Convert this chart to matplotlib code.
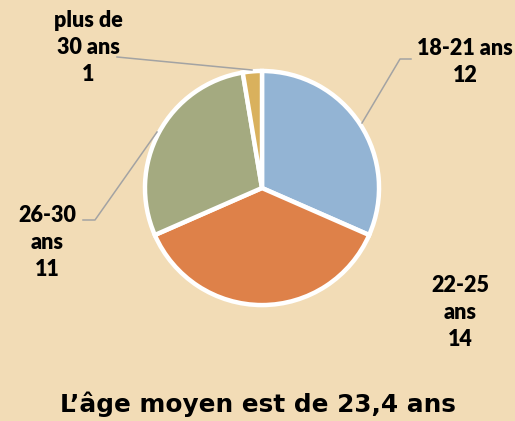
import matplotlib
matplotlib.use("Agg")
import matplotlib.pyplot as plt

categories = ["18-21 ans", "22-25 ans", "26-30 ans", "plus de 30 ans"]
values = [12, 14, 11, 1]
label_texts = ["18-21 ans\n12", "22-25\nans\n14", "26-30\nans\n11", "plus de\n30 ans\n1"]
title = "L\u2019âge moyen est de 23,4 ans"

colors = ["#93B4D4", "#DE8149", "#A4AA80", "#D9B15D"]
explode = [0.03, 0.06, 0.03, 0.03]
bg = "#F2DCB6"

W, H = 515, 421
fig = plt.figure(figsize=(W / 100, H / 100), dpi=100, facecolor=bg)
ax = fig.add_axes([0, 0, 1, 1])
ax.set_facecolor(bg)

def Y(y):
    return H - y

ax.pie(values, startangle=90, counterclock=False, colors=colors, explode=explode,
       center=(262, Y(188)), radius=117,
       wedgeprops=dict(edgecolor="white", linewidth=3.2))
ax.set_xlim(0, W)
ax.set_ylim(0, H)
ax.set_aspect("equal")
ax.axis("off")

# label positions (pixel coords: center x, top-line center y)
lab_pos = [(465, 47), (460, 283), (47, 213), (88, 18)]
step = 29.5
lab_font = dict(family="Lato", fontweight="heavy", fontsize=15.5, color="black",
                ha="center", va="center", linespacing=1.35)
for txt, (x, y) in zip(label_texts, lab_pos):
    n = txt.count("\n")
    ax.text(x, Y(y + n * step / 2), txt, **lab_font)

lc = "#A3A3A3"
ax.plot([117, 252], [Y(57), Y(70)], color=lc, lw=1.1)
ax.plot([411, 400, 362], [Y(59), Y(59), Y(123)], color=lc, lw=1.1)
ax.plot([83, 95, 157], [Y(220), Y(220), Y(132)], color=lc, lw=1.1)

fig.text(0.5, 1 - 404 / H, title, ha="center", va="center",
         fontsize=17.8, fontweight="bold", family="DejaVu Sans", color="black")

fig.savefig("out.png", dpi=100, facecolor=bg)
